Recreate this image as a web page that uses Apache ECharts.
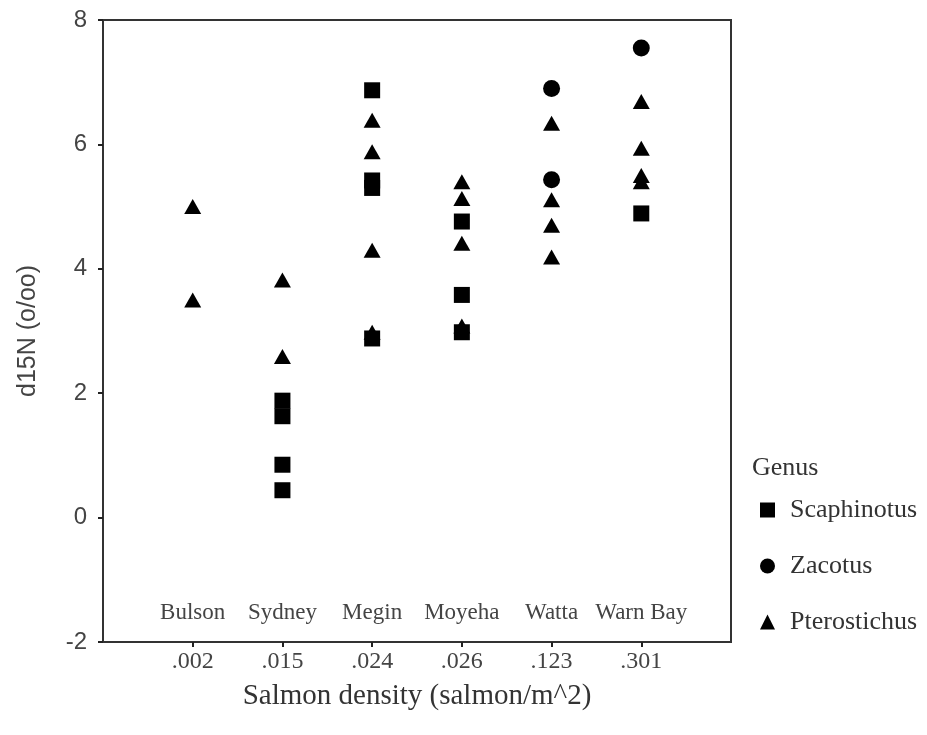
<!DOCTYPE html>
<html>
<head>
<meta charset="utf-8">
<script src="https://cdn.jsdelivr.net/npm/echarts@6/dist/echarts.min.js"></script>
<style>html,body{margin:0;padding:0;background:#fff;}#c{width:927px;height:735px;}</style>
</head>
<body>
<div id="c"></div>
<script>
var sites = ['Bulson', 'Sydney', 'Megin', 'Moyeha', 'Watta', 'Warn Bay'];
var densityLabels = ['.002', '.015', '.024', '.026', '.123', '.301'];
var yTicks = [-2, 0, 2, 4, 6, 8];
// d15N values per site (index follows sites)
var scaphinotus = [[], [1.88, 1.63, 0.85, 0.44], [6.87, 5.42, 5.30, 2.88], [4.76, 3.58, 2.98], [], [4.89]];
var zacotus = [[], [], [], [], [6.90, 5.43], [7.55]];
var pterostichus = [[5.00, 3.50], [3.82, 2.59], [6.39, 5.88, 4.30, 2.98], [5.40, 5.13, 4.41, 3.08], [6.34, 5.11, 4.70, 4.19], [6.69, 5.94, 5.50, 5.40]];

function toPoints(groups) {
  var out = [];
  groups.forEach(function (vals, i) {
    vals.forEach(function (v) { out.push([i + 1, v]); });
  });
  return out;
}
var positions = sites.map(function (s, i) { return i + 1; });

var chart = echarts.init(document.getElementById('c'), null, {renderer: 'canvas'});
var serif = 'Liberation Serif';
var sans = 'Liberation Sans';
chart.setOption({
  animation: false,
  backgroundColor: '#fff',
  title: {
    text: 'Genus', left: 752, top: 455, padding: 0,
    textStyle: {fontFamily: serif, fontSize: 26, fontWeight: 'normal', color: '#333'}
  },
  legend: {
    orient: 'vertical', left: 760, top: 497, padding: 0,
    itemGap: 30, itemWidth: 15, itemHeight: 15,
    textStyle: {fontFamily: serif, fontSize: 26, color: '#333', padding: [5, 0, 0, 10]},
    data: [
      {name: 'Scaphinotus', icon: 'rect'},
      {name: 'Zacotus', icon: 'circle'},
      {name: 'Pterostichus', icon: 'triangle'}
    ]
  },
  grid: {left: 103, right: 196, top: 20, bottom: 93, show: true, borderColor: '#333', borderWidth: 2, backgroundColor: 'transparent'},
  xAxis: [{
    type: 'value', min: 0, max: 7,
    name: 'Salmon density (salmon/m^2)', nameLocation: 'middle', nameGap: 40,
    nameTextStyle: {fontFamily: serif, fontSize: 29, color: '#333'},
    axisLine: {show: true, onZero: false, lineStyle: {color: '#333', width: 2}},
    axisTick: {show: true, length: 5, lineStyle: {color: '#222', width: 2}, customValues: positions},
    axisLabel: {customValues: positions, margin: 8, fontFamily: serif, fontSize: 24, color: '#444',
      formatter: function (v) { return densityLabels[Math.round(v) - 1] || ''; }},
    splitLine: {show: false}
  }, {
    type: 'value', min: 0, max: 7, position: 'bottom',
    axisLine: {show: false, onZero: false}, axisTick: {show: false}, splitLine: {show: false},
    axisLabel: {inside: true, customValues: positions, margin: 18, fontFamily: serif, fontSize: 23, color: '#444',
      formatter: function (v) { return sites[Math.round(v) - 1] || ''; }}
  }],
  yAxis: {
    type: 'value', min: -2, max: 8, interval: 2,
    name: 'd15N (o/oo)', nameLocation: 'middle', nameGap: 62,
    nameTextStyle: {fontFamily: sans, fontSize: 25, color: '#444'},
    axisLine: {show: true, lineStyle: {color: '#333', width: 2}},
    axisTick: {show: true, length: 5, lineStyle: {color: '#222', width: 2}},
    axisLabel: {margin: 16, fontFamily: sans, fontSize: 24, color: '#444',
      formatter: function (v) { return yTicks.indexOf(v) >= 0 ? String(v) : ''; }},
    splitLine: {show: false}
  },
  series: [
    {name: 'Scaphinotus', type: 'scatter', symbol: 'rect', symbolSize: 16, itemStyle: {color: '#000', opacity: 1}, data: toPoints(scaphinotus), z: 3},
    {name: 'Zacotus', type: 'scatter', symbol: 'circle', symbolSize: 17, itemStyle: {color: '#000', opacity: 1}, data: toPoints(zacotus), z: 3},
    {name: 'Pterostichus', type: 'scatter', symbol: 'triangle', symbolSize: [17, 15], itemStyle: {color: '#000', opacity: 1}, data: toPoints(pterostichus), z: 2}
  ]
});
</script>
</body>
</html>
